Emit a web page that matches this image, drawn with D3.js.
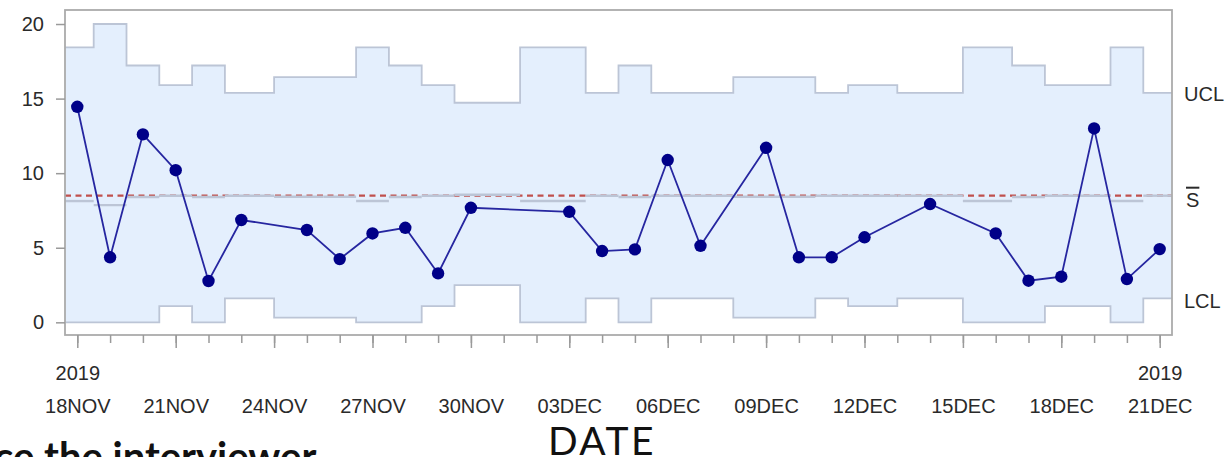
<!DOCTYPE html>
<html>
<head>
<meta charset="utf-8">
<script src="https://cdn.jsdelivr.net/npm/d3@7"></script>
<style>
  html, body { margin: 0; padding: 0; background: #ffffff; overflow: hidden; }
  svg { display: block; }
</style>
</head>
<body>
<svg id="chart" width="1226" height="457"></svg>
<script>
// ---------------- DATA ----------------
const dates = ["2019-11-18","2019-11-19","2019-11-20","2019-11-21","2019-11-22","2019-11-23",
  "2019-11-25","2019-11-26","2019-11-27","2019-11-28","2019-11-29","2019-11-30",
  "2019-12-03","2019-12-04","2019-12-05","2019-12-06","2019-12-07","2019-12-09",
  "2019-12-10","2019-12-11","2019-12-12","2019-12-14","2019-12-16","2019-12-17",
  "2019-12-18","2019-12-19","2019-12-20","2019-12-21"];
const sValues = [14.45, 4.36, 12.6, 10.2, 2.77, 6.86,
  6.19, 4.24, 5.96, 6.34, 3.28, 7.68,
  7.41, 4.78, 4.89, 10.88, 5.13, 11.7,
  4.36, 4.36, 5.70, 7.93, 5.96, 2.79,
  3.06, 13.0, 2.90, 4.91];
const uclValues = [18.43, 20.0, 17.22, 15.9, 17.22, 15.39,
  16.44, 16.44, 18.43, 17.22, 15.9, 14.72,
  18.43, 15.39, 17.22, 15.39, 15.39, 16.44,
  16.44, 15.39, 15.9, 15.39, 18.43, 17.22,
  15.9, 15.9, 18.43, 15.39];
const lclValues = [0, 0, 0, 1.09, 0, 1.61,
  0.31, 0.31, 0, 0, 1.09, 2.5,
  0, 1.61, 0, 1.61, 1.61, 0.31,
  0.31, 1.61, 1.09, 1.61, 0, 0,
  1.09, 1.09, 0, 1.61];
const centerValues = [8.13, 7.86, 8.40, 8.49, 8.40, 8.49,
  8.42, 8.42, 8.13, 8.40, 8.49, 8.55,
  8.13, 8.49, 8.40, 8.49, 8.49, 8.42,
  8.42, 8.49, 8.49, 8.49, 8.13, 8.40,
  8.49, 8.49, 8.13, 8.49];
const sBar = 8.49;
const yTicks = [0, 5, 10, 15, 20];
const xTickDates = ["2019-11-18","2019-11-21","2019-11-24","2019-11-27","2019-11-30","2019-12-03",
  "2019-12-06","2019-12-09","2019-12-12","2019-12-15","2019-12-18","2019-12-21"];
const xTickLabels = ["18NOV","21NOV","24NOV","27NOV","30NOV","03DEC",
  "06DEC","09DEC","12DEC","15DEC","18DEC","21DEC"];
const yearLabel = "2019";
const limitLabels = ["UCL", "S", "LCL"];
const xTitle = "DATE";
const bgText = "ce the interviewer";

// ---------------- LAYOUT ----------------
const svg = d3.select("#chart");
const pL = 65, pR = 1172, pT = 10, pB = 335;
const parse = d3.utcParse("%Y-%m-%d");
const D = dates.map(parse);
const x = d3.scaleUtc()
  .domain([d3.utcHour.offset(parse("2019-11-18"), -9), d3.utcHour.offset(parse("2019-12-21"), 9.5)])
  .range([pL, pR]);
const y = d3.scaleLinear().domain([-0.85, 20.94]).range([pB, pT]);

const FONT = "'Liberation Sans', Arial, sans-serif";
const n = D.length;

function stepPts(vals) {
  const pts = D.map((d, i) => [x(d), y(vals[i])]);
  pts.unshift([pL, y(vals[0])]);
  pts.push([pR, y(vals[n - 1])]);
  return pts;
}
const uclPts = stepPts(uclValues);
const lclPts = stepPts(lclValues);

const areaData = uclPts.map((p, i) => ({ x: p[0], y1: p[1], y0: lclPts[i][1] }));
svg.append("path")
  .datum(areaData)
  .attr("d", d3.area().x(d => d.x).y0(d => d.y0).y1(d => d.y1).curve(d3.curveStep))
  .attr("fill", "#e4effd");

const stepLine = d3.line().curve(d3.curveStep);
[uclPts, lclPts].forEach(pts => {
  svg.append("path").attr("d", stepLine(pts))
    .attr("fill", "none").attr("stroke", "#bcc5d6").attr("stroke-width", 1.8);
});

// red dashed mean line
svg.append("line")
  .attr("x1", pL).attr("x2", pR)
  .attr("y1", y(sBar)).attr("y2", y(sBar))
  .attr("stroke", "#c0504d").attr("stroke-width", 2.2)
  .attr("stroke-dasharray", "6,4.5");

// gray center segments
const seg = D.map((d, i) => {
  const x0 = i === 0 ? pL : (x(D[i - 1]) + x(d)) / 2;
  const x1 = i === n - 1 ? pR : (x(d) + x(D[i + 1])) / 2;
  return { x0, x1, v: centerValues[i] };
});
svg.append("g").selectAll("line").data(seg).join("line")
  .attr("x1", d => d.x0).attr("x2", d => d.x1)
  .attr("y1", d => y(d.v)).attr("y2", d => y(d.v))
  .attr("stroke", "#bcc5d6").attr("stroke-width", 2.4);

// frame
svg.append("rect")
  .attr("x", pL).attr("y", pT).attr("width", pR - pL).attr("height", pB - pT)
  .attr("fill", "none").attr("stroke", "#ababab").attr("stroke-width", 1.8);

// data line + markers
svg.append("path")
  .datum(D.map((d, i) => [x(d), y(sValues[i])]))
  .attr("d", d3.line())
  .attr("fill", "none").attr("stroke", "#2626a0").attr("stroke-width", 1.8);
svg.append("g").selectAll("circle").data(D).join("circle")
  .attr("cx", d => x(d)).attr("cy", (d, i) => y(sValues[i]))
  .attr("r", 6.2).attr("fill", "#000088");

// Y axis
const yAxis = svg.append("g").attr("transform", `translate(${pL},0)`)
  .call(d3.axisLeft(y).tickValues(yTicks).tickSize(9).tickPadding(12).tickFormat(d3.format("d")));
yAxis.select(".domain").remove();
yAxis.selectAll(".tick line").attr("stroke", "#9a9a9a").attr("stroke-width", 1.5);
yAxis.selectAll("text").attr("font-family", FONT).attr("font-size", 20).attr("fill", "#2a2a2a");

// X axis minor ticks
const allDays = d3.utcDay.range(parse("2019-11-18"), d3.utcDay.offset(parse("2019-12-21"), 1));
const xMinor = svg.append("g").attr("transform", `translate(0,${pB})`)
  .call(d3.axisBottom(x).tickValues(allDays).tickSize(8).tickFormat(""));
xMinor.select(".domain").remove();
xMinor.selectAll(".tick line").attr("stroke", "#9a9a9a").attr("stroke-width", 1.5);

// X axis major ticks + labels
const xMajor = svg.append("g").attr("transform", `translate(0,${pB})`)
  .call(d3.axisBottom(x).tickValues(xTickDates.map(parse)).tickSize(13)
    .tickFormat((d, i) => xTickLabels[i]));
xMajor.select(".domain").remove();
xMajor.selectAll(".tick line").attr("stroke", "#9a9a9a").attr("stroke-width", 1.5);
xMajor.selectAll(".tick text")
  .attr("y", 413 - pB).attr("dy", 0)
  .attr("font-family", FONT).attr("font-size", 20).attr("fill", "#2a2a2a");
xMajor.selectAll(".tick").filter((d, i) => i === 0 || i === xTickDates.length - 1)
  .append("text")
  .attr("y", 380 - pB).attr("text-anchor", "middle")
  .attr("font-family", FONT).attr("font-size", 20).attr("fill", "#2a2a2a")
  .text(yearLabel);

// right-side limit labels
const rx = pR + 12;
svg.append("text").attr("x", rx).attr("y", y(uclValues[n - 1]) + 8)
  .attr("font-family", FONT).attr("font-size", 20).attr("fill", "#2a2a2a").text(limitLabels[0]);
svg.append("text").attr("x", rx + 2).attr("y", y(sBar) + 11)
  .attr("font-family", FONT).attr("font-size", 20).attr("fill", "#2a2a2a")
  .style("text-decoration", "overline").text(limitLabels[1]);
svg.append("text").attr("x", rx).attr("y", y(lclValues[n - 1]) + 10)
  .attr("font-family", FONT).attr("font-size", 20).attr("fill", "#2a2a2a").text(limitLabels[2]);

// axis title
svg.append("text").attr("x", 602).attr("y", 455).attr("text-anchor", "middle")
  .attr("font-family", "Lato, 'Noto Sans', sans-serif").attr("font-size", 39).attr("fill", "#111")
  .attr("letter-spacing", 2.5)
  .text(xTitle);

// background slide text fragment (cut by the page edge, as in the reference)
svg.append("text").attr("x", -6).attr("y", 471)
  .attr("font-family", "Lato, 'Noto Sans', sans-serif").attr("font-weight", "bold")
  .attr("font-size", 40).attr("fill", "#111").text(bgText);
</script>
</body>
</html>
